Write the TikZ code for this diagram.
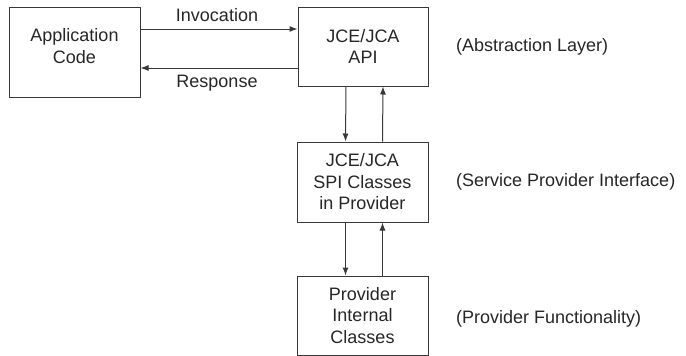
\documentclass[tikz,border=0pt]{standalone}
\usepackage{fontspec}
\setmainfont{Liberation Sans}
\usetikzlibrary{arrows.meta}
\definecolor{ink}{gray}{0.15}
\definecolor{linegray}{gray}{0.22}
\tikzset{
  box/.style={draw=linegray, line width=1pt, rectangle, inner sep=0pt,
              minimum width=131pt, align=center, text=ink,
              font=\fontsize{18}{21.5}\selectfont},
  lbl/.style={text=ink, inner sep=0pt, font=\fontsize{18}{21.5}\selectfont},
  arr/.style={draw=linegray, line width=1pt,
              -{Latex[length=8pt,width=6pt]}},
}
\begin{document}
\begin{tikzpicture}[x=1pt,y=-1pt]
  \useasboundingbox (0,0) rectangle (686,356);

  % boxes
  \node[box, minimum height=90pt] (app) at (74.5,52) {};
  \node[lbl, align=center] (apptext) at (74.5,46) {Application\\Code};
  \node[box, minimum width=130pt, minimum height=79pt] (api) at (363,46.5) {JCE/JCA\\API};
  \node[box, minimum height=80pt] (spi) at (362.5,182) {JCE/JCA\\SPI Classes\\in Provider};
  \node[box, minimum height=79pt] (prov) at (362.5,315.5) {Provider\\Internal\\Classes};

  % call and return between application and API
  \draw[arr] ([yshift=23pt]app.east) coordinate (i0) -- (i0 -| api.west);
  \coordinate (r0) at ([yshift=-16pt]app.east);
  \draw[arr] (r0 -| api.west) -- (r0);
  \node[lbl] (inv) at (217,15.5) {Invocation};
  \node[lbl] (resp) at (217,83) {Response};

  % vertical links between the layers
  \draw[arr] ([xshift=-17pt]api.south) -- ([xshift=-17pt]spi.north);
  \draw[arr] ([xshift=20pt]spi.north) -- ([xshift=20pt]api.south);
  \draw[arr] ([xshift=-17pt]spi.south) -- ([xshift=-17pt]prov.north);
  \draw[arr] ([xshift=20pt]prov.north) -- ([xshift=20pt]spi.south);

  % layer captions
  \node[lbl, anchor=west] (l1) at (456,47) {(Abstraction Layer)};
  \node[lbl, anchor=west] (l2) at (456,182) {(Service Provider Interface)};
  \node[lbl, anchor=west] (l3) at (456,319) {(Provider Functionality)};
\end{tikzpicture}
\end{document}
